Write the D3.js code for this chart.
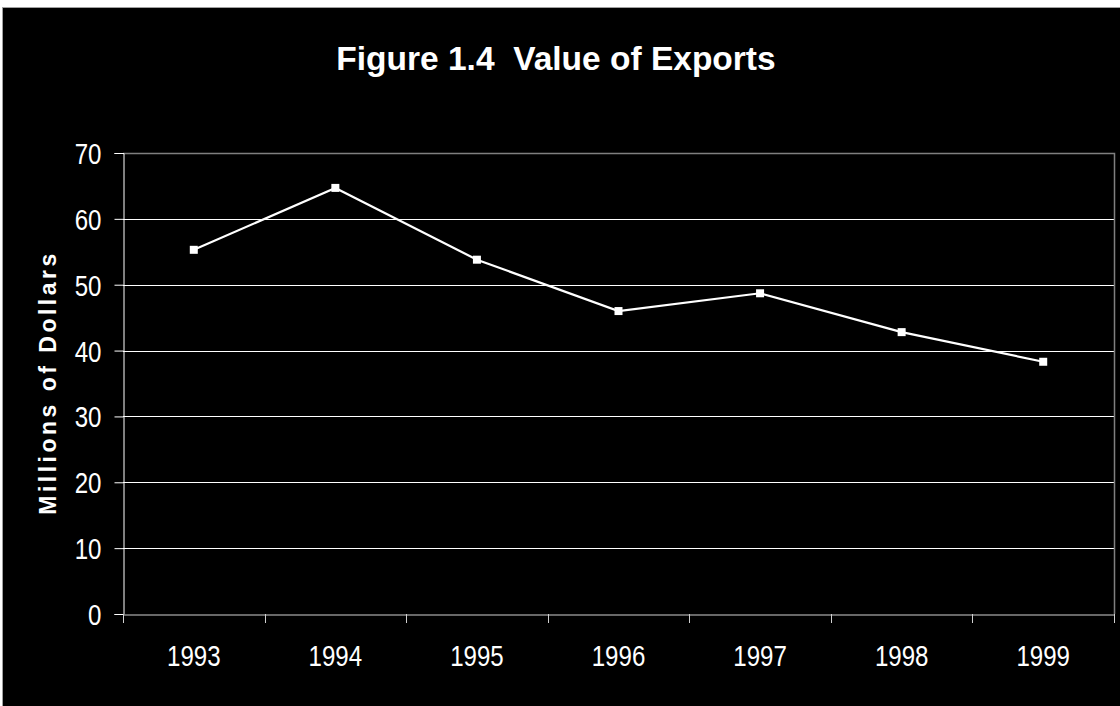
<!DOCTYPE html>
<html>
<head>
<meta charset="utf-8">
<script src="https://cdn.jsdelivr.net/npm/d3@7"></script>
<style>
  html, body { margin: 0; padding: 0; background: #ffffff; }
  svg { display: block; }
</style>
</head>
<body>
<svg id="chart" width="1120" height="706"></svg>
<script>
const years = ["1993", "1994", "1995", "1996", "1997", "1998", "1999"];
const exportsValue = [55.3, 64.7, 53.8, 46.0, 48.7, 42.8, 38.3];
const yTicks = [0, 10, 20, 30, 40, 50, 60, 70];
const titleText = "Figure 1.4\u00a0\u00a0Value of Exports";
const yLabelText = "Millions of Dollars";

const svg = d3.select("#chart");
const W = 1120, H = 706;
const plot = { left: 123, right: 1114, top: 153, bottom: 614 };

// outer frame
svg.append("rect").attr("x", 0).attr("y", 0).attr("width", W).attr("height", H).attr("fill", "#ffffff");
svg.append("rect").attr("x", 2.5).attr("y", 7.5).attr("width", W).attr("height", H)
  .attr("fill", "#000000").attr("stroke", "#a0a0a0").attr("stroke-width", 1);

const x = d3.scaleBand().domain(years).range([plot.left, plot.right]).padding(0);
const y = d3.scaleLinear().domain([0, 70]).range([plot.bottom, plot.top]);

const numFont = "'Liberation Sans Narrow', 'Arial Narrow', 'Liberation Sans', Arial, sans-serif";

// compress digits to mimic a narrow face
function narrow(sel) {
  sel.each(function() {
    const w = this.getComputedTextLength();
    d3.select(this).attr("textLength", w * 0.83).attr("lengthAdjust", "spacingAndGlyphs");
  });
}

// gridlines
svg.append("g").selectAll("line").data(yTicks.filter(d => d > 0 && d < 70)).join("line")
  .attr("x1", plot.left).attr("x2", plot.right)
  .attr("y1", d => Math.round(y(d)) + 0.5).attr("y2", d => Math.round(y(d)) + 0.5)
  .attr("stroke", "#ffffff").attr("stroke-width", 1);

// plot border (top/right)
svg.append("path")
  .attr("d", `M${plot.left},${plot.top + 0.5}H${plot.right + 0.5}V${plot.bottom}`)
  .attr("fill", "none").attr("stroke", "#7f7f7f").attr("stroke-width", 1.5);

// y axis
const yAxis = d3.axisLeft(y).tickValues(yTicks).tickSize(9).tickPadding(13).tickFormat(d3.format("d"));
const gy = svg.append("g").attr("transform", `translate(${plot.left + 0.5},0)`).call(yAxis);
gy.select(".domain").attr("stroke", "#ffffff");
gy.selectAll(".tick line").attr("stroke", "#ffffff");
gy.selectAll(".tick text").attr("fill", "#ffffff").attr("font-family", numFont).attr("font-size", 29).attr("dy", "0.36em").call(narrow);

// x axis (labels centered in categories)
const xAxis = d3.axisBottom(x).tickSize(0).tickPadding(41);
const gx = svg.append("g").attr("transform", `translate(0,${plot.bottom + 0.5})`).call(xAxis);
gx.select(".domain").attr("stroke", "#d0d0d0");
gx.selectAll(".tick text").attr("fill", "#ffffff").attr("font-family", numFont).attr("font-size", 29).attr("dy", "0.35em").call(narrow);

// x boundary ticks
const bounds = years.map(d => x(d)).concat([x(years[years.length - 1]) + x.bandwidth()]);
svg.append("g").selectAll("line").data(bounds).join("line")
  .attr("x1", d => Math.round(d) + 0.5).attr("x2", d => Math.round(d) + 0.5)
  .attr("y1", plot.bottom).attr("y2", plot.bottom + 9)
  .attr("stroke", "#d0d0d0").attr("stroke-width", 1);

// line
const line = d3.line().x((d, i) => x(years[i]) + x.bandwidth() / 2).y(d => y(d));
svg.append("path").datum(exportsValue).attr("d", line)
  .attr("fill", "none").attr("stroke", "#ffffff").attr("stroke-width", 2.2);

// markers
svg.append("g").selectAll("rect").data(exportsValue).join("rect")
  .attr("x", (d, i) => x(years[i]) + x.bandwidth() / 2 - 4)
  .attr("y", d => y(d) - 4)
  .attr("width", 8).attr("height", 8)
  .attr("fill", "#ffffff");

// title
svg.append("text").attr("x", 556).attr("y", 70).attr("text-anchor", "middle")
  .attr("fill", "#ffffff").attr("font-family", "'Liberation Sans', Arial, sans-serif")
  .attr("font-weight", "bold").attr("font-size", 33.5).text(titleText);

// y label
svg.append("text").attr("transform", `translate(56,${(plot.top + plot.bottom) / 2 - 1}) rotate(-90)`)
  .attr("text-anchor", "middle").attr("fill", "#ffffff")
  .attr("font-family", "'Liberation Sans', Arial, sans-serif")
  .attr("font-weight", "bold").attr("font-size", 23).attr("letter-spacing", 3.5)
  .text(yLabelText);
</script>
</body>
</html>
